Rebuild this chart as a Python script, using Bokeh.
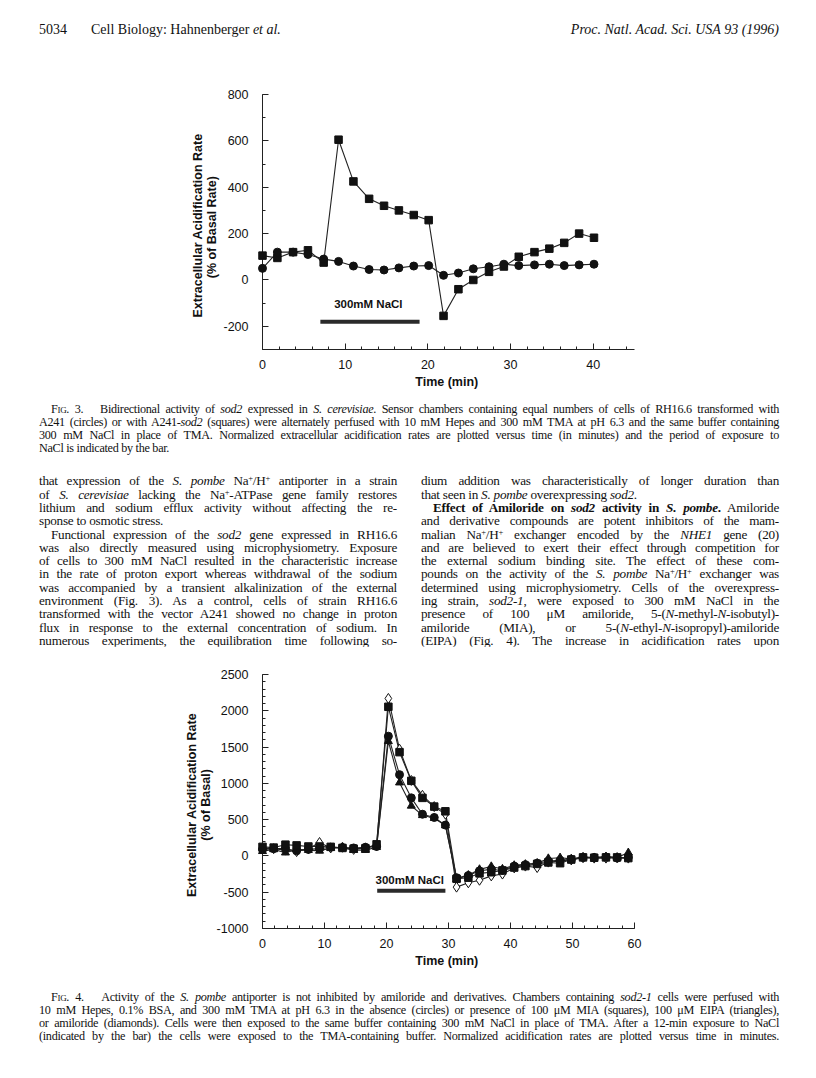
from bokeh.plotting import figure
from bokeh.models import Range1d, SingleIntervalTicker, Div, Label, PrintfTickFormatter
from bokeh.layouts import column
from bokeh.embed import file_html
from bokeh.resources import INLINE

# ---------------- data: Fig. 3 ----------------
fig3_time = [0, 1.8, 3.7, 5.5, 7.4, 9.2, 11.0, 12.9, 14.7, 16.5, 18.3, 20.1,
             21.9, 23.7, 25.5, 27.4, 29.2, 31.0, 32.9, 34.7, 36.5, 38.3, 40.1]
fig3_sod2 = [105, 95, 120, 128, 75, 605, 425, 350, 320, 300, 280, 258,
             -155, -40, 0, 35, 58, 100, 120, 135, 160, 200, 182]
fig3_a241 = [50, 120, 120, 110, 90, 80, 60, 45, 43, 52, 60, 62,
             20, 30, 48, 57, 68, 62, 65, 68, 62, 65, 68]
fig3_nacl = [7.0, 19.0]
fig3_nacl_y = -180
fig3_label = "300mM  NaCl"

# ---------------- data: Fig. 4 ----------------
fig4_time = [0, 1.8, 3.7, 5.5, 7.4, 9.2, 11.0, 12.9, 14.7, 16.6, 18.4, 20.3,
             22.1, 24.0, 25.8, 27.7, 29.5, 31.3, 33.2, 35.0, 36.9, 38.7, 40.6,
             42.4, 44.3, 46.1, 48.0, 49.8, 51.7, 53.5, 55.4, 57.2, 59.0]
fig4_none = [90, 100, 100, 70, 90, 100, 120, 115, 110, 120, 130, 1650,
             1120, 800, 575, 530, 425, -300, -270, -205, -185, -200, -140,
             -120, -100, -70, -60, -45, -20, -20, -15, -30, -20]
fig4_mia = [125, 115, 155, 145, 130, 130, 125, 110, 100, 105, 160, 2055,
            1430, 1035, 800, 680, 615, -315, -300, -240, -225, -200, -160,
            -140, -110, -90, -100, -50, -20, -25, -20, -20, -30]
fig4_eipa = [65, 90, 45, 90, 80, 70, 110, 110, 80, 80, 120, 1580,
             1010, 690, 560, 520, 420, -320, -265, -185, -145, -180, -130,
             -115, -100, -35, -25, -40, -15, -25, -10, -20, 45]
fig4_amil = [100, 100, 80, 60, 100, 185, 110, 120, 90, 110, 140, 2170,
             1470, 1040, 835, 680, 575, -430, -370, -335, -275, -250, -165,
             -140, -160, -85, -70, -55, -25, -30, -30, -25, -30]
fig4_nacl = [18.5, 29.5]
fig4_nacl_y = -480
fig4_label = "300mM  NaCl"

SANS = "Liberation Sans"
SERIF = "Liberation Serif"
INK = "#111111"
LINE = "#222222"


def style_axes(p, xint, xminor, yint, yminor, ylabel):
    p.outline_line_color = None
    p.xgrid.visible = False
    p.ygrid.visible = False
    p.background_fill_color = "white"
    p.border_fill_color = "white"
    xa = p.xaxis[0]
    ya = p.yaxis[0]
    xa.ticker = SingleIntervalTicker(interval=xint, num_minor_ticks=xminor)
    ya.ticker = SingleIntervalTicker(interval=yint, num_minor_ticks=yminor)
    for ax in (xa, ya):
        ax.formatter = PrintfTickFormatter(format="%d")
        ax.axis_line_color = LINE
        ax.axis_line_width = 1
        ax.major_tick_line_color = LINE
        ax.minor_tick_line_color = LINE
        ax.major_tick_in = 6
        ax.major_tick_out = 0
        ax.minor_tick_in = 3
        ax.minor_tick_out = 0
        ax.major_label_text_font = SANS
        ax.major_label_text_font_size = "12.5px"
        ax.major_label_text_color = INK
        ax.axis_label_text_font = SANS
        ax.axis_label_text_font_style = "bold"
        ax.axis_label_text_font_size = "12.5px"
        ax.axis_label_text_color = INK
        ax.axis_label_text_line_height = 1.0
    xa.major_label_standoff = 10
    xa.axis_label = "Time  (min)"
    xa.axis_label_standoff = 3
    ya.major_label_standoff = 14
    ya.axis_label = ylabel
    ya.axis_label_standoff = 1


def base_fig(h, top, bottom, frame_w, xr, yr):
    p = figure(width=800, height=h, x_range=Range1d(*xr), y_range=Range1d(*yr),
               output_backend="svg", toolbar_location=None,
               min_border_left=262, min_border_right=800 - 262 - frame_w,
               min_border_top=top, min_border_bottom=bottom)
    return p


# ---------------- Fig. 3 ----------------
p1 = base_fig(357, 52, 50, 372, (0, 45), (-300, 800))
style_axes(p1, 10, 5, 200, 2, "Extracellular  Acidification  Rate\n(%  of  Basal  Rate)")
p1.line(fig3_time, fig3_sod2, line_color=LINE, line_width=1.1, level="overlay")
p1.line(fig3_time, fig3_a241, line_color=LINE, line_width=1.1, level="overlay")
p1.scatter(fig3_time, fig3_sod2, marker="square", size=7.5, color=INK, level="overlay")
p1.scatter(fig3_time, fig3_a241, marker="circle", size=8, color=INK, level="overlay")
p1.segment(x0=[fig3_nacl[0]], y0=[fig3_nacl_y], x1=[fig3_nacl[1]], y1=[fig3_nacl_y],
           line_width=4, line_color="#2a2a2a")
p1.add_layout(Label(x=(fig3_nacl[0] + fig3_nacl[1]) / 2, y=fig3_nacl_y, y_offset=12,
                    text=fig3_label, text_align="center", text_baseline="bottom",
                    text_font=SANS, text_font_style="bold", text_font_size="11.5px",
                    text_color=INK))

# ---------------- Fig. 4 ----------------
p2 = base_fig(344, 28, 62, 378, (0, 60), (-1000, 2500))
style_axes(p2, 10, 5, 500, 5, "Extracellular  Acidification  Rate\n(%  of  Basal)")
for ys in (fig4_none, fig4_mia, fig4_eipa, fig4_amil):
    p2.line(fig4_time, ys, line_color=LINE, line_width=1.1, level="overlay")
p2.scatter(fig4_time, fig4_amil, marker="diamond", size=10, fill_color="white",
           line_color=INK, line_width=1, level="overlay")
p2.scatter(fig4_time, fig4_eipa, marker="triangle", size=8, color=INK, level="overlay")
p2.scatter(fig4_time, fig4_none, marker="circle", size=8, color=INK, level="overlay")
p2.scatter(fig4_time, fig4_mia, marker="square", size=7.5, color=INK, level="overlay")
p2.segment(x0=[fig4_nacl[0]], y0=[fig4_nacl_y], x1=[fig4_nacl[1]], y1=[fig4_nacl_y],
           line_width=4, line_color="#2a2a2a")
p2.add_layout(Label(x=(fig4_nacl[0] + fig4_nacl[1]) / 2, y=fig4_nacl_y, y_offset=5,
                    text=fig4_label, text_align="center", text_baseline="bottom",
                    text_font=SANS, text_font_style="bold", text_font_size="11.5px",
                    text_color=INK))

# ---------------- page text ----------------
SUP = '<sup style="font-size:8.5px;vertical-align:4px;line-height:0">+</sup>'
NAH = f"Na{SUP}/H{SUP}"


def lines_html(lines, width, lh):
    out = []
    for text, just, ind in lines:
        st = f"width:{width}px;height:{lh}px;line-height:{lh}px;white-space:nowrap;"
        st += "text-align:justify;text-align-last:justify;" if just else "text-align:left;"
        if ind:
            st += f"text-indent:{ind}px;"
        out.append(f'<div style="{st}">{text}</div>')
    return "".join(out)


def page_div(inner, h):
    html = (f'<div style="position:relative;width:800px;height:{h}px;'
            f'font-family:\'{SERIF}\',serif;color:{INK};">{inner}</div>')
    return Div(text=html, width=800, height=h, margin=0)


header_html = (
    f'<div style="position:absolute;left:39px;top:0;width:740px;height:42px;line-height:60px;'
    f'font-size:14px;display:flex;justify-content:space-between;">'
    f'<span>5034<span style="margin-left:24px">Cell Biology: Hahnenberger <i>et al.</i></span></span>'
    f'<span><i>Proc. Natl. Acad. Sci. USA 93 (1996)</i></span></div>')
header = page_div(header_html, 42)

SC = '<span style="font-variant:small-caps">Fig.</span>'
CAP_STYLE = "font-size:12.2px;letter-spacing:-0.3px;"
cap3 = [
    (f"{SC} 3.&nbsp;&nbsp; Bidirectional activity of <i>sod2</i> expressed in <i>S. cerevisiae</i>. Sensor chambers containing equal numbers of cells of RH16.6 transformed with", True, 12),
    ("A241 (circles) or with A241-<i>sod2</i> (squares) were alternately perfused with 10 mM Hepes and 300 mM TMA at pH 6.3 and the same buffer containing", True, 0),
    ("300 mM NaCl in place of TMA. Normalized extracellular acidification rates are plotted versus time (in minutes) and the period of exposure to", True, 0),
    ("NaCl is indicated by the bar.", False, 0),
]
cap3_html = (f'<div style="position:absolute;left:39px;top:4px;{CAP_STYLE}">'
             f'{lines_html(cap3, 740, 13)}</div>')
caption3 = page_div(cap3_html, 60)

body_left = [
    (f"that expression of the <i>S. pombe</i> {NAH} antiporter in a strain", True, 0),
    (f"of <i>S. cerevisiae</i> lacking the Na{SUP}-ATPase gene family restores", True, 0),
    ("lithium and sodium efflux activity without affecting the re-", True, 0),
    ("sponse to osmotic stress.", False, 0),
    ("Functional expression of the <i>sod2</i> gene expressed in RH16.6", True, 12),
    ("was also directly measured using microphysiometry. Exposure", True, 0),
    ("of cells to 300 mM NaCl resulted in the characteristic increase", True, 0),
    ("in the rate of proton export whereas withdrawal of the sodium", True, 0),
    ("was accompanied by a transient alkalinization of the external", True, 0),
    ("environment (Fig. 3). As a control, cells of strain RH16.6", True, 0),
    ("transformed with the vector A241 showed no change in proton", True, 0),
    ("flux in response to the external concentration of sodium. In", True, 0),
    ("numerous experiments, the equilibration time following so-", True, 0),
]
body_right = [
    ("dium addition was characteristically of longer duration than", True, 0),
    ("that seen in <i>S. pombe</i> overexpressing <i>sod2</i>.", False, 0),
    ("<b>Effect of Amiloride on <i>sod2</i> activity in <i>S. pombe</i>.</b> Amiloride", True, 12),
    ("and derivative compounds are potent inhibitors of the mam-", True, 0),
    (f"malian {NAH} exchanger encoded by the <i>NHE1</i> gene (20)", True, 0),
    ("and are believed to exert their effect through competition for", True, 0),
    ("the external sodium binding site. The effect of these com-", True, 0),
    (f"pounds on the activity of the <i>S. pombe</i> {NAH} exchanger was", True, 0),
    ("determined using microphysiometry. Cells of the overexpress-", True, 0),
    ("ing strain, <i>sod2-1</i>, were exposed to 300 mM NaCl in the", True, 0),
    ("presence of 100 μM amiloride, 5-(<i>N</i>-methyl-<i>N</i>-isobutyl)-", True, 0),
    ("amiloride (MIA), or 5-(<i>N</i>-ethyl-<i>N</i>-isopropyl)-amiloride", True, 0),
    ("(EIPA) (Fig. 4). The increase in acidification rates upon", True, 0),
]
BODY_STYLE = "font-size:13.2px;letter-spacing:-0.25px;"
body_html = (
    f'<div style="position:absolute;left:39px;top:15.35px;{BODY_STYLE}">'
    f'{lines_html(body_left, 358, 13.3)}</div>'
    f'<div style="position:absolute;left:421px;top:15.35px;{BODY_STYLE}">'
    f'{lines_html(body_right, 358, 13.3)}</div>')
body = page_div(body_html, 187)

cap4 = [
    (f"{SC} 4.&nbsp;&nbsp; Activity of the <i>S. pombe</i> antiporter is not inhibited by amiloride and derivatives. Chambers containing <i>sod2-1</i> cells were perfused with", True, 12),
    ("10 mM Hepes, 0.1% BSA, and 300 mM TMA at pH 6.3 in the absence (circles) or presence of 100 μM MIA (squares), 100 μM EIPA (triangles),", True, 0),
    ("or amiloride (diamonds). Cells were then exposed to the same buffer containing 300 mM NaCl in place of TMA. After a 12-min exposure to NaCl", True, 0),
    ("(indicated by the bar) the cells were exposed to the TMA-containing buffer. Normalized acidification rates are plotted versus time in minutes.", True, 0),
]
cap4_html = (f'<div style="position:absolute;left:39px;top:0.5px;{CAP_STYLE}">'
             f'{lines_html(cap4, 740, 13)}</div>')
caption4 = page_div(cap4_html, 54)

page = column(header, p1, caption3, body, p2, caption4, spacing=0)

open("out.html", "w").write(file_html(page, INLINE))
